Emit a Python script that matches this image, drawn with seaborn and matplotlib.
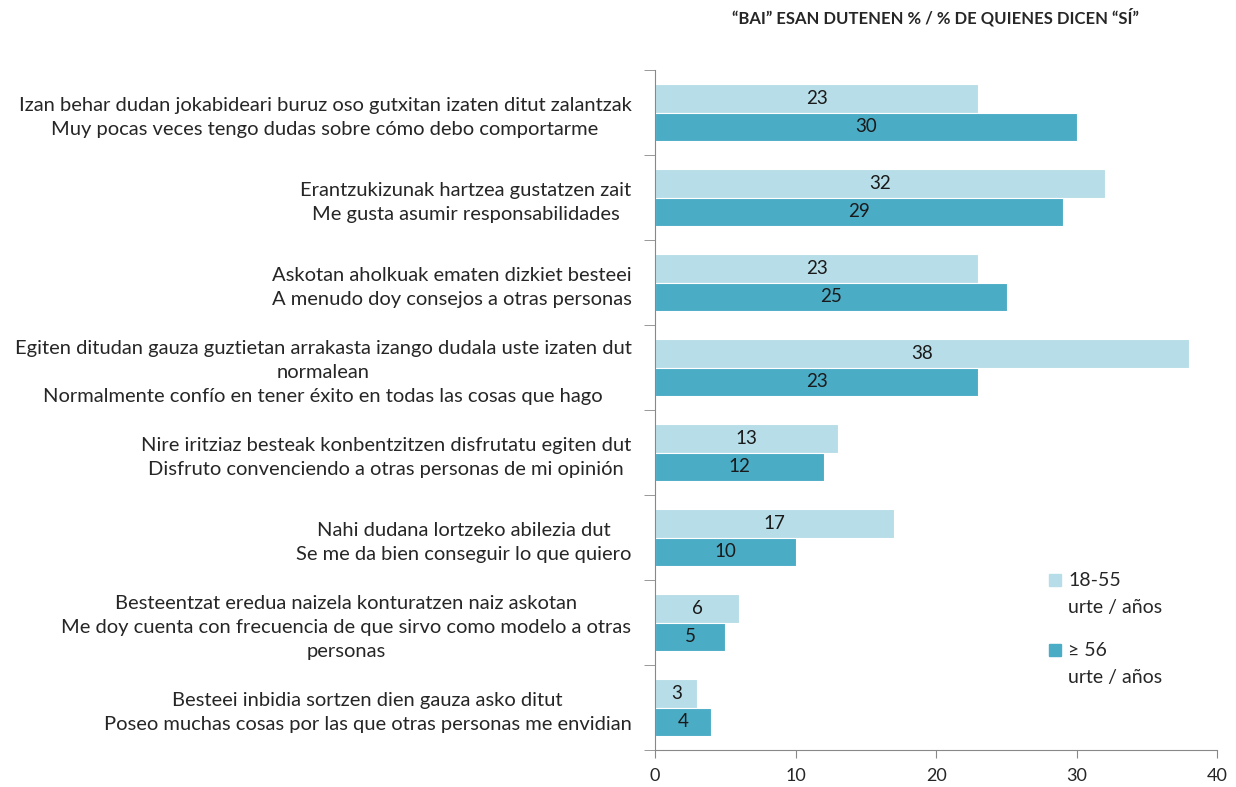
import pandas as pd
import matplotlib.pyplot as plt
import seaborn as sns
from matplotlib.patches import Rectangle

# datos
labels = [
    "Izan behar dudan jokabideari buruz oso gutxitan izaten ditut zalantzak\nMuy pocas veces tengo dudas sobre cómo debo comportarme",
    "Erantzukizunak hartzea gustatzen zait\nMe gusta asumir responsabilidades",
    "Askotan aholkuak ematen dizkiet besteei\nA menudo doy consejos a otras personas",
    "Egiten ditudan gauza guztietan arrakasta izango dudala uste izaten dut\nnormalean\nNormalmente confío en tener éxito en todas las cosas que hago",
    "Nire iritziaz besteak konbentzitzen disfrutatu egiten dut\nDisfruto convenciendo a otras personas de mi opinión",
    "Nahi dudana lortzeko abilezia dut\nSe me da bien conseguir lo que quiero",
    "Besteentzat eredua naizela konturatzen naiz askotan\nMe doy cuenta con frecuencia de que sirvo como modelo a otras\npersonas",
    "Besteei inbidia sortzen dien gauza asko ditut\nPoseo muchas cosas por las que otras personas me envidian",
]
young = [23, 32, 23, 38, 13, 17, 6, 3]
old = [30, 29, 25, 23, 12, 10, 5, 4]
groups = ["18-55", "≥ 56"]
colors = ["#B7DEE8", "#4BACC6"]

df = pd.DataFrame({
    "label": labels * 2,
    "valor": young + old,
    "grupo": [groups[0]] * len(labels) + [groups[1]] * len(labels),
})

sns.set_style("white")
plt.rcParams['font.family'] = ['Lato', 'DejaVu Sans']

fig, ax = plt.subplots(figsize=(12.36, 7.87), dpi=100)
fig.subplots_adjust(left=0.53, right=0.985, top=0.911, bottom=0.047)

sns.barplot(data=df, x="valor", y="label", hue="grupo", orient="h",
            palette=colors, width=0.68, ax=ax, saturation=1, legend=False,
            edgecolor="white", linewidth=0.8)

# etiquetas de valor
for cont in ax.containers:
    for bar in cont:
        w = bar.get_width()
        ax.text(w / 2, bar.get_y() + bar.get_height() / 2, f"{w:.0f}",
                ha="center", va="center", fontsize=13.5, color="#1a1a1a")

ax.set_xlim(0, 40)
ax.set_xticks([0, 10, 20, 30, 40])
ax.set_ylim(len(labels) - 0.5, -0.5)
ax.set_xlabel("")
ax.set_ylabel("")

ax.tick_params(axis="x", labelsize=13, length=6, color="#888888", pad=7,
               bottom=True)
ax.tick_params(axis="y", which="major", length=0, labelsize=14.5, pad=17)
ax.set_yticks(range(len(labels)), labels=labels, linespacing=1.5,
              multialignment="center")
ax.set_yticks([i - 0.5 for i in range(len(labels) + 1)], minor=True)
ax.tick_params(axis="y", which="minor", length=8, color="#888888", left=True)

for s in ["top", "right"]:
    ax.spines[s].set_visible(False)
for s in ["left", "bottom"]:
    ax.spines[s].set_color("#888888")

# leyenda
leg_y = [580, 650]
for i, g in enumerate(groups):
    y = 1 - leg_y[i] / 787
    fig.patches.append(Rectangle((1049 / 1236, y - 6 / 787), 12 / 1236, 12 / 787,
                                 transform=fig.transFigure, color=colors[i]))
    fig.text(1068 / 1236, y, g, ha="left", va="center", fontsize=14)
    fig.text(1068 / 1236, y - 27 / 787, "urte / años", ha="left", va="center",
             fontsize=14)

fig.text(0.757, 0.978, "“BAI” ESAN DUTENEN % / % DE QUIENES DICEN “SÍ”",
         ha="center", va="center", fontsize=12, fontweight="bold")

plt.savefig("out.png", dpi=100)
